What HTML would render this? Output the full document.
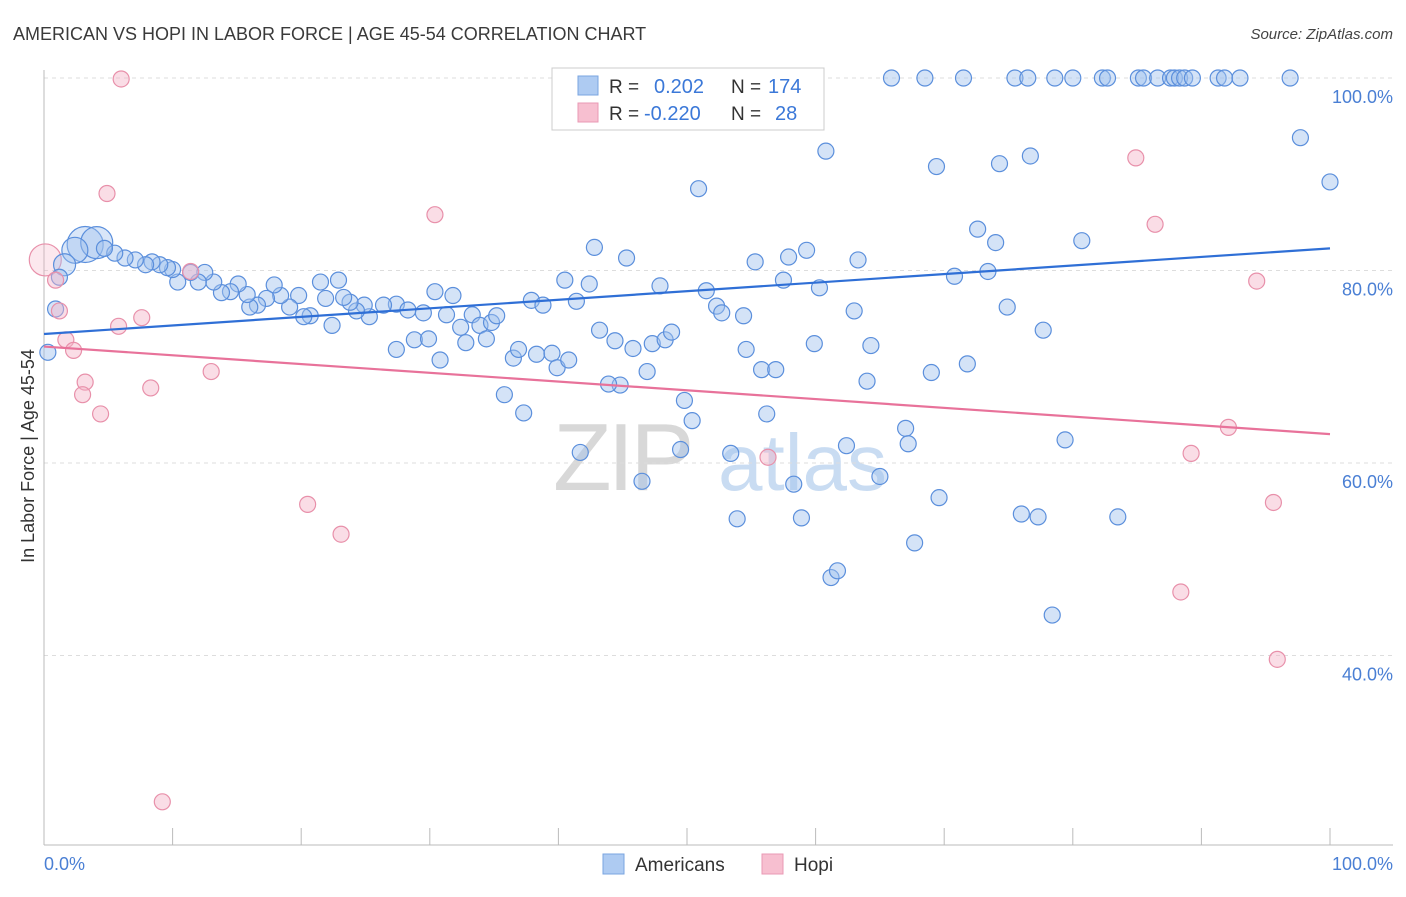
<!DOCTYPE html>
<html><head><meta charset="utf-8"><style>
body{margin:0;background:#fff;font-family:"Liberation Sans",sans-serif;}
svg text{font-family:"Liberation Sans",sans-serif;}
</style></head><body>
<svg id="chart" width="1406" height="892" viewBox="0 0 1406 892" xmlns="http://www.w3.org/2000/svg">
<text x="13" y="40" font-size="18" fill="#3a3a3a">AMERICAN VS HOPI IN LABOR FORCE | AGE 45-54 CORRELATION CHART</text>
<text x="1393" y="39" font-size="15" fill="#444" font-style="italic" text-anchor="end">Source: ZipAtlas.com</text>
<g>
<text x="553" y="490" font-size="96" fill="#d8d8d8" font-family="Liberation Serif" letter-spacing="-4">ZIP</text>
<text x="718" y="490" font-size="80" fill="#c9dcf2">atlas</text>
</g>
<g id="grid"></g>
<g id="axes"></g>
<text transform="translate(34,456) rotate(-90)" font-size="18" fill="#333" text-anchor="middle">In Labor Force | Age 45-54</text>
<g id="pts"></g>
<g id="lines"></g>
<g>
<rect x="552" y="68" width="272" height="62" fill="#fff" stroke="#ccc"/>
<rect x="578" y="76" width="20" height="19" fill="#aecbf2" stroke="#7aa5e0"/>
<rect x="578" y="103" width="20" height="19" fill="#f7bfd0" stroke="#ea9ab4"/>
<text x="609" y="93" font-size="19" fill="#333">R =</text>
<text x="654" y="93" font-size="20" fill="#3b78d8">0.202</text>
<text x="731" y="93" font-size="19" fill="#333">N =</text>
<text x="768" y="93" font-size="20" fill="#3b78d8">174</text>
<text x="609" y="120" font-size="19" fill="#333">R =</text>
<text x="644" y="120" font-size="20" fill="#3b78d8">-0.220</text>
<text x="731" y="120" font-size="19" fill="#333">N =</text>
<text x="775" y="120" font-size="20" fill="#3b78d8">28</text>
</g>
<g>
<rect x="603" y="854" width="21" height="20" fill="#aecbf2" stroke="#7aa5e0"/>
<text x="635" y="871" font-size="19" fill="#333">Americans</text>
<rect x="762" y="854" width="21" height="20" fill="#f7bfd0" stroke="#ea9ab4"/>
<text x="794" y="871" font-size="19" fill="#333">Hopi</text>
</g>
</svg>
<script>
const yTicks=[40,60,80,100];
const yTickLabels=["40.0%","60.0%","80.0%","100.0%"];
const xTicks=[0,10,20,30,40,50,60,70,80,90,100];
const xTickLabels=["0.0%","100.0%"];
const blueX=[65.9,68.5,71.5,75.5,76.5,78.6,80.0,82.3,82.7,85.1,85.5,86.6,87.6,87.9,88.3,88.7,89.3,91.3,91.8,93.0,96.9,
97.7,100,60.8,69.4,74.3,76.7,50.9,72.6,74.0,80.7,42.8,45.3,55.3,57.9,59.3,63.3,70.8,73.4,57.5,40.5,42.4,47.9,51.5,60.3,74.9,52.3,52.7,54.4,63.0,77.7,37.9,38.8,41.4,30.4,31.8,43.2,44.4,45.8,47.3,48.3,48.8,54.6,59.9,64.3,71.8,69.0,64.0,55.8,56.9,46.9,44.8,43.9,35.8,37.3,49.8,50.4,56.2,67.0,67.2,79.4,41.7,49.5,53.4,58.3,65.0,62.4,46.5,53.9,58.9,69.6,76.0,77.3,83.5,67.7,61.2,61.7,78.4,
27.4,28.3,29.5,31.3,32.4,33.3,33.9,34.8,35.2,34.4,32.8,30.8,27.4,28.8,29.9,36.5,36.9,38.3,39.5,39.9,40.8,25.3,26.4,24.9,24.3,23.8,23.3,22.4,21.9,21.5,22.9,20.7,20.2,19.8,19.1,18.4,17.9,17.3,16.6,16.0,15.8,15.1,14.5,13.8,13.2,12.5,12.0,11.4,10.4,10.0,9.6,9.0,8.4,7.9,7.1,6.3,5.5,4.7,1.2,0.9,0.3];
const blueY=[100,100,100,100,100,100,100,100,100,100,100,100,100,100,100,100,100,100,100,100,100,
93.8,89.2,92.4,90.8,91.1,91.9,88.5,84.3,82.9,83.1,82.4,81.3,80.9,81.4,82.1,81.1,79.4,79.9,79.0,79.0,78.6,78.4,77.9,78.2,76.2,76.3,75.6,75.3,75.8,73.8,76.9,76.4,76.8,77.8,77.4,73.8,72.7,71.9,72.4,72.8,73.6,71.8,72.4,72.2,70.3,69.4,68.5,69.7,69.7,69.5,68.1,68.2,67.1,65.2,66.5,64.4,65.1,63.6,62.0,62.4,61.1,61.4,61.0,57.8,58.6,61.8,58.1,54.2,54.3,56.4,54.7,54.4,54.4,51.7,48.1,48.8,44.2,
76.5,75.9,75.6,75.4,74.1,75.4,74.3,74.6,75.3,72.9,72.5,70.7,71.8,72.8,72.9,70.9,71.8,71.3,71.4,69.9,70.7,75.2,76.4,76.4,75.8,76.7,77.2,74.3,77.1,78.8,79.0,75.3,75.2,77.4,76.2,77.4,78.5,77.1,76.4,76.2,77.5,78.6,77.8,77.7,78.8,79.8,78.8,79.8,78.8,80.1,80.3,80.6,80.9,80.6,81.1,81.3,81.8,82.3,79.3,76.0,71.5];
const blueBigX=[3.2,4.1,2.4,1.6];
const blueBigY=[82.7,82.9,82.1,80.6];
const blueBigR=[18,16,13,11];
const pinkX=[6.0,4.9,30.4,84.9,86.4,94.3,0.9,1.2,1.7,2.3,3.2,3.0,4.4,5.8,7.6,8.3,11.4,13.0,20.5,23.1,56.3,89.2,92.1,95.6,88.4,95.9,9.2];
const pinkY=[99.9,88.0,85.8,91.7,84.8,78.9,79.0,75.8,72.8,71.7,68.4,67.1,65.1,74.2,75.1,67.8,79.9,69.5,55.7,52.6,60.6,61.0,63.7,55.9,46.6,39.6,24.8];
const pinkBigX=[0.1];
const pinkBigY=[81.1];
const pinkBigR=[16];
const blueTrend=[73.4,82.3];
const pinkTrend=[72.1,63.0];

const NS="http://www.w3.org/2000/svg";
const X0=44,X1=1330,YT=78,PXPER=9.625;
function sx(v){return X0+(X1-X0)*v/100;}
function sy(v){return YT+(100-v)*PXPER;}
function mk(tag,attrs,parent){const e=document.createElementNS(NS,tag);for(const k in attrs)e.setAttribute(k,attrs[k]);parent.appendChild(e);return e;}
const grid=document.getElementById('grid'),axes=document.getElementById('axes'),pts=document.getElementById('pts'),lines=document.getElementById('lines');
yTicks.forEach((t,i)=>{
  const l=mk('line',{x1:X0,x2:1393,y1:sy(t),y2:sy(t),stroke:'#ddd','stroke-dasharray':'4 4'},grid);
  
  
  const tx=mk('text',{x:1393,y:sy(t)+25,'font-size':18,fill:'#4a7fd4','text-anchor':'end'},axes);
  tx.textContent=yTickLabels[i];
  
  
});
mk('line',{x1:X0,x2:X0,y1:70,y2:845,stroke:'#bbb'},axes);
mk('line',{x1:X0,x2:1393,y1:845,y2:845,stroke:'#bbb'},axes);
xTicks.forEach(t=>{
  const l=mk('line',{x1:sx(t),x2:sx(t),y1:828,y2:845,stroke:'#bbb'},axes);
  
  
});
const xl0=mk('text',{x:44,y:870,'font-size':18,fill:'#4a7fd4'},axes);xl0.textContent=xTickLabels[0];


const xl1=mk('text',{x:1393,y:870,'font-size':18,fill:'#4a7fd4','text-anchor':'end'},axes);xl1.textContent=xTickLabels[1];


function dot(x,y,r,fill,stroke,name,op){
  const c=mk('circle',{cx:sx(x),cy:sy(y),r:r,fill:fill,'fill-opacity':op,stroke:stroke,'stroke-width':1.2},pts);
  
  
}
pinkBigX.forEach((x,i)=>dot(x,pinkBigY[i],pinkBigR[i],'#f5b3c8','#e890aa','hopi-point',0.3));
blueBigX.forEach((x,i)=>dot(x,blueBigY[i],blueBigR[i],'#9fc0ee','#5b8fdc','american-point',0.4));
blueX.forEach((x,i)=>dot(x,blueY[i],8,'#9fc0ee','#5b8fdc','american-point',0.45));
pinkX.forEach((x,i)=>dot(x,pinkY[i],8,'#f5b3c8','#e890aa','hopi-point',0.45));
const bl=mk('line',{x1:sx(0),y1:sy(blueTrend[0]),x2:sx(100),y2:sy(blueTrend[1]),stroke:'#2f6fd6','stroke-width':2.2},lines);


const pl=mk('line',{x1:sx(0),y1:sy(pinkTrend[0]),x2:sx(100),y2:sy(pinkTrend[1]),stroke:'#e8729a','stroke-width':2.2},lines);


</script>
</body></html>
